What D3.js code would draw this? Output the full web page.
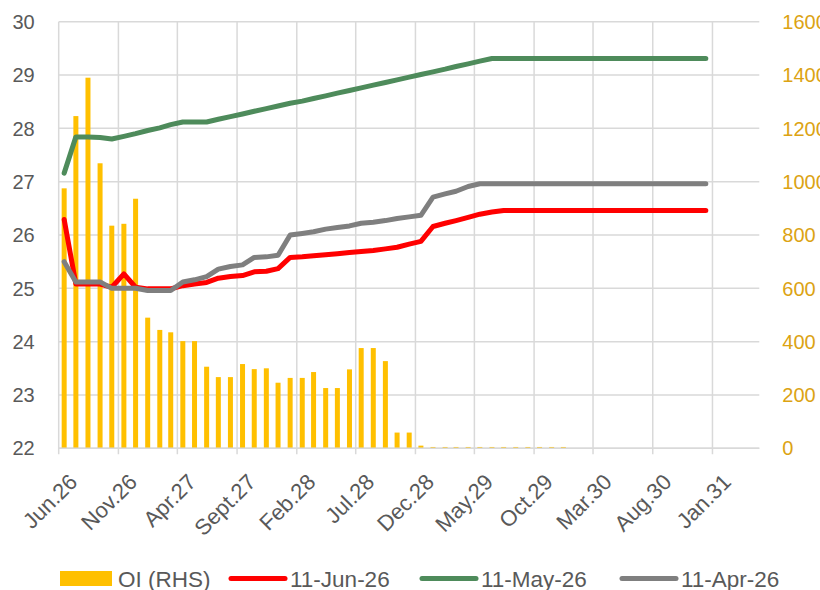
<!DOCTYPE html>
<html>
<head>
<meta charset="utf-8">
<script src="https://cdn.jsdelivr.net/npm/d3@7"></script>
<style>
  body { margin: 0; background: #fff; }
  text { font-family: "Liberation Sans", Arial, sans-serif; }
</style>
</head>
<body>
<svg id="chart" width="820" height="590"></svg>
<script>
// monthly contracts, Jun 2026 to Dec 2030
const months = [
  "2026-06", "2026-07", "2026-08", "2026-09", "2026-10", "2026-11", "2026-12",
  "2027-01", "2027-02", "2027-03", "2027-04", "2027-05", "2027-06", "2027-07", "2027-08", "2027-09", "2027-10", "2027-11", "2027-12",
  "2028-01", "2028-02", "2028-03", "2028-04", "2028-05", "2028-06", "2028-07", "2028-08", "2028-09", "2028-10", "2028-11", "2028-12",
  "2029-01", "2029-02", "2029-03", "2029-04", "2029-05", "2029-06", "2029-07", "2029-08", "2029-09", "2029-10", "2029-11", "2029-12",
  "2030-01", "2030-02", "2030-03", "2030-04", "2030-05", "2030-06", "2030-07", "2030-08", "2030-09", "2030-10", "2030-11", "2030-12"
];

// open interest (right axis)
const oi = [
  975, 1246, 1390, 1069, 835, 842, 936,
  490, 444, 435, 402, 402, 306, 267, 267, 316, 297, 300, 246,
  264, 264, 286, 226, 226, 296, 376, 376, 327, 59, 59, 10,
  5, 5, 5, 5, 5, 5, 5, 5, 5, 5, 5, 5
];

const curveJun11 = [
  26.29, 25.08, 25.08, 25.08, 25.02, 25.27, 25.02,
  24.99, 24.99, 24.99, 25.05, 25.08, 25.11, 25.19, 25.22, 25.24, 25.31, 25.32, 25.37,
  25.58, 25.59, 25.61, 25.63, 25.65, 25.67, 25.69, 25.71, 25.74, 25.77, 25.83, 25.88,
  26.16, 26.22, 26.27, 26.33, 26.39, 26.43, 26.46, 26.46, 26.46, 26.46, 26.46, 26.46,
  26.46, 26.46, 26.46, 26.46, 26.46, 26.46, 26.46, 26.46, 26.46, 26.46, 26.46, 26.46
];

const curveMay11 = [
  27.16, 27.84, 27.84, 27.83, 27.80, 27.85, 27.90,
  27.96, 28.01, 28.07, 28.12, 28.12, 28.12, 28.17, 28.22, 28.27, 28.32, 28.37, 28.42,
  28.47, 28.51, 28.56, 28.61, 28.66, 28.71, 28.76, 28.81, 28.86, 28.91, 28.96, 29.01,
  29.06, 29.11, 29.16, 29.21, 29.26, 29.31, 29.31, 29.31, 29.31, 29.31, 29.31, 29.31,
  29.31, 29.31, 29.31, 29.31, 29.31, 29.31, 29.31, 29.31, 29.31, 29.31, 29.31, 29.31
];

const curveApr11 = [
  25.50, 25.12, 25.12, 25.12, 25.00, 25.00, 25.00,
  24.96, 24.96, 24.96, 25.12, 25.16, 25.22, 25.36, 25.41, 25.44, 25.58, 25.59, 25.62,
  26.00, 26.03, 26.06, 26.11, 26.14, 26.17, 26.22, 26.24, 26.27, 26.31, 26.34, 26.37,
  26.71, 26.77, 26.82, 26.91, 26.96, 26.96, 26.96, 26.96, 26.96, 26.96, 26.96, 26.96,
  26.96, 26.96, 26.96, 26.96, 26.96, 26.96, 26.96, 26.96, 26.96, 26.96, 26.96, 26.96
];

const tickMonths = ["2026-06", "2026-11", "2027-04", "2027-09", "2028-02", "2028-07",
  "2028-12", "2029-05", "2029-10", "2030-03", "2030-08", "2031-01"];
const tickLabels = ["Jun.26", "Nov.26", "Apr.27", "Sept.27", "Feb.28", "Jul.28",
  "Dec.28", "May.29", "Oct.29", "Mar.30", "Aug.30", "Jan.31"];
const leftTicks = [22, 23, 24, 25, 26, 27, 28, 29, 30];
const rightTicks = [0, 200, 400, 600, 800, 1000, 1200, 1400, 1600];

const seriesNames = ["OI (RHS)", "11-Jun-26", "11-May-26", "11-Apr-26"];

const margin = {top: 21.7, right: 60.7, bottom: 141.7, left: 58.7};
const width = 820 - margin.left - margin.right;
const height = 590 - margin.top - margin.bottom;

const gridColor = "#d9d9d9";
const textColor = "#595959";
const oiColor = "#ffc000";
const oiText = "#dca313";
const lineColors = ["#ff0000", "#4e8b5b", "#7f7f7f"];

const parseMonth = d3.timeParse("%Y-%m");
const midMonth = m => d3.timeDay.offset(parseMonth(m), 14);

const svg = d3.select("#chart")
  .append("g")
  .attr("transform", "translate(" + margin.left + "," + margin.top + ")");

const xScale = d3.scaleTime()
  .domain([parseMonth("2026-06"), parseMonth("2031-05")])
  .range([0, width]);
const yScale = d3.scaleLinear().domain([22, 30]).range([height, 0]);
const yRight = d3.scaleLinear().domain([0, 1600]).range([height, 0]);

// horizontal gridlines
svg.append("g")
  .selectAll("line")
  .data(leftTicks)
  .enter()
  .append("line")
  .attr("x1", 0).attr("x2", width)
  .attr("y1", d => yScale(d)).attr("y2", d => yScale(d))
  .attr("stroke", gridColor).attr("stroke-width", 1.5);

// vertical gridlines
const tickDates = tickMonths.map(parseMonth);
svg.append("g")
  .selectAll("line")
  .data(tickDates)
  .enter()
  .append("line")
  .attr("x1", d => xScale(d)).attr("x2", d => xScale(d))
  .attr("y1", 0).attr("y2", height + 6)
  .attr("stroke", gridColor).attr("stroke-width", 1.5);

// left axis labels
svg.append("g")
  .selectAll("text")
  .data(leftTicks)
  .enter()
  .append("text")
  .attr("x", -24)
  .attr("y", d => yScale(d))
  .attr("dy", "0.36em")
  .attr("text-anchor", "end")
  .attr("font-size", 20)
  .attr("fill", textColor)
  .text(d => d);

// right axis labels (cut at the page edge, as in the original)
svg.append("g")
  .selectAll("text")
  .data(rightTicks)
  .enter()
  .append("text")
  .attr("x", width + 23)
  .attr("y", d => yRight(d))
  .attr("dy", "0.36em")
  .attr("text-anchor", "start")
  .attr("font-size", 20)
  .attr("fill", oiText)
  .text(d => d);

// x axis labels
svg.append("g")
  .selectAll("text")
  .data(tickDates)
  .enter()
  .append("text")
  .attr("transform", d => "translate(" + (xScale(d) + 9) + "," + (height + 24) + ") rotate(-45)")
  .attr("dy", "0.71em")
  .attr("text-anchor", "end")
  .attr("font-size", 22)
  .attr("fill", textColor)
  .text((d, i) => tickLabels[i]);

// bars
svg.append("g")
  .selectAll("rect")
  .data(oi)
  .enter()
  .append("rect")
  .attr("x", (d, i) => xScale(midMonth(months[i])) - 2.5)
  .attr("y", d => yRight(d))
  .attr("width", 5)
  .attr("height", d => height - yRight(d))
  .attr("fill", oiColor);

// bottom axis line
svg.append("line")
  .attr("x1", 0).attr("x2", width)
  .attr("y1", height).attr("y2", height)
  .attr("stroke", gridColor).attr("stroke-width", 1.5);

const line = d3.line()
  .x((d, i) => xScale(midMonth(months[i])))
  .y(d => yScale(d));

[curveJun11, curveMay11, curveApr11].forEach((curve, k) => {
  svg.append("path")
    .attr("fill", "none")
    .attr("stroke", lineColors[k])
    .attr("stroke-width", 5)
    .attr("stroke-linejoin", "round")
    .attr("stroke-linecap", "round")
    .attr("d", line(curve));
});

// legend
const legend = d3.select("#chart").append("g");
const legendX = [60, 231, 422, 622];
legend.append("rect")
  .attr("x", legendX[0]).attr("y", 571)
  .attr("width", 52).attr("height", 15)
  .attr("fill", oiColor);
legend.append("text")
  .attr("x", legendX[0] + 58).attr("y", 586.5)
  .attr("font-size", 22.5).attr("fill", textColor)
  .text(seriesNames[0]);
for (let k = 0; k < 3; ++k) {
  legend.append("line")
    .attr("x1", legendX[k + 1]).attr("x2", legendX[k + 1] + 54)
    .attr("y1", 578.5).attr("y2", 578.5)
    .attr("stroke", lineColors[k]).attr("stroke-width", 5)
    .attr("stroke-linecap", "round");
  legend.append("text")
    .attr("x", legendX[k + 1] + 59).attr("y", 586.5)
    .attr("font-size", 22.5).attr("fill", textColor)
    .text(seriesNames[k + 1]);
}
</script>
</body>
</html>
